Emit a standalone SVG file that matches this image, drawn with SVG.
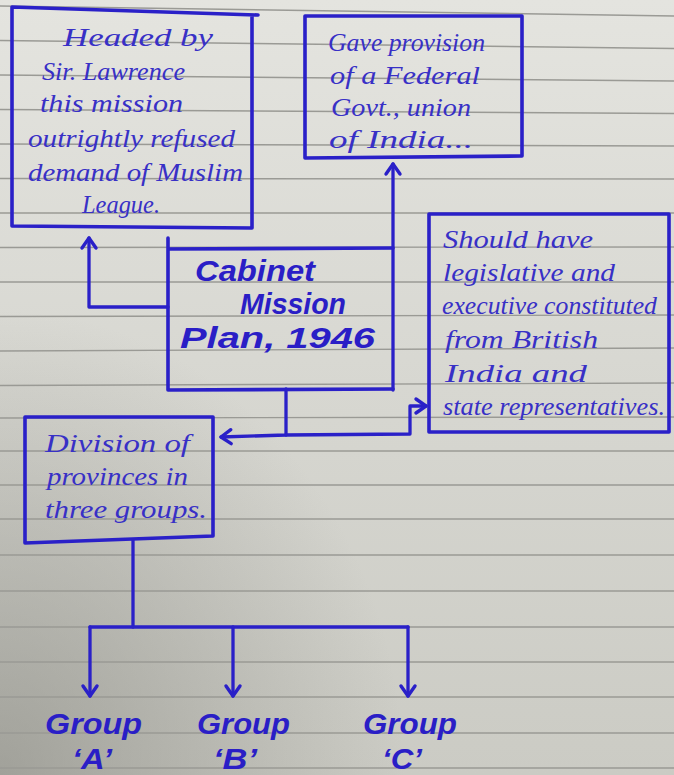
<svg xmlns="http://www.w3.org/2000/svg" width="674" height="775" viewBox="0 0 674 775">
  <defs>
    <linearGradient id="paper" x1="0" y1="0" x2="0" y2="1">
      <stop offset="0" stop-color="#e4e4df"/>
      <stop offset="0.5" stop-color="#d7d7d1"/>
      <stop offset="1" stop-color="#cbcbc4"/>
    </linearGradient>
    <radialGradient id="shade" cx="0" cy="1" r="0.6">
      <stop offset="0" stop-color="#85857e" stop-opacity="0.6"/>
      <stop offset="1" stop-color="#85857e" stop-opacity="0"/>
    </radialGradient>
    <marker id="chev" viewBox="-13 -10 16 20" refX="0" refY="0" markerWidth="16" markerHeight="20" markerUnits="userSpaceOnUse" orient="auto">
      <path d="M-10,-7 L0,0 L-10,7" fill="none" stroke="#2a20c8" stroke-width="3.4" stroke-linecap="round" stroke-linejoin="round"/>
    </marker>
  </defs>
  <style>
    .box { fill: none; stroke: #2a20c8; stroke-width: 3.6; stroke-linejoin: round; stroke-linecap: round; }
    .conn { fill: none; stroke: #2a20c8; stroke-width: 3.3; stroke-linejoin: round; stroke-linecap: round; }
    .rule { fill: none; stroke: #9a9a95; stroke-width: 1.4; }
    .pen { font-family: "Liberation Serif", "DejaVu Serif", serif; font-style: italic; font-size: 25px; fill: #3830c6; }
    .marker { font-family: "Liberation Sans", "DejaVu Sans", sans-serif; font-style: italic; font-weight: bold; font-size: 30px; fill: #2a1ec6; }
  </style>

  <rect x="0" y="0" width="674" height="775" fill="url(#paper)"/>
  <rect x="0" y="0" width="674" height="775" fill="url(#shade)"/>

  <g id="ruled-lines">
    <path class="rule" d="M0,6 L674,16"/>
    <path class="rule" d="M0,40.5 L674,48.5"/>
    <path class="rule" d="M0,75 L674,81"/>
    <path class="rule" d="M0,109.5 L674,113.5"/>
    <path class="rule" d="M0,144 L674,146"/>
    <path class="rule" d="M0,178.5 L674,179"/>
    <path class="rule" d="M0,213 L674,213"/>
    <path class="rule" d="M0,247.5 L674,247"/>
    <path class="rule" d="M0,282 L674,282"/>
    <path class="rule" d="M0,316.5 L674,315"/>
    <path class="rule" d="M0,351 L674,348"/>
    <path class="rule" d="M0,385.5 L674,383"/>
    <path class="rule" d="M0,418 L674,417"/>
    <path class="rule" d="M0,451 L674,451"/>
    <path class="rule" d="M0,485 L674,485"/>
    <path class="rule" d="M0,519 L674,519"/>
    <path class="rule" d="M0,555 L674,555"/>
    <path class="rule" d="M0,591 L674,591"/>
    <path class="rule" d="M0,627 L674,627"/>
    <path class="rule" d="M0,662 L674,662"/>
    <path class="rule" d="M0,697 L674,697"/>
    <path class="rule" d="M0,733 L674,733"/>
    <path class="rule" d="M0,768 L674,768"/>
  </g>

  <g id="connectors">
    <path class="conn" d="M168,307 L89,307 L89,238" marker-end="url(#chev)"/>
    <path class="conn" d="M393,390 L393,164" marker-end="url(#chev)"/>
    <path class="conn" d="M286,389 L286,435 L221,437" marker-end="url(#chev)"/>
    <path class="conn" d="M286,435 L410,434 L410,406 L426,406" marker-end="url(#chev)"/>
    <path class="conn" d="M133,540 L133,627"/>
    <path class="conn" d="M90,627 L408,627"/>
    <path class="conn" d="M90,627 L90,696" marker-end="url(#chev)"/>
    <path class="conn" d="M233,627 L233,696" marker-end="url(#chev)"/>
    <path class="conn" d="M408,627 L408,696" marker-end="url(#chev)"/>
  </g>

  <g id="headed">
    <path class="box" d="M12,7 L258,15 M12,7 L12,226 L252,228 L252,15"/>
    <text class="pen" x="63" y="46" textLength="150" lengthAdjust="spacingAndGlyphs">Headed by</text>
    <text class="pen" x="42" y="80" textLength="143" lengthAdjust="spacingAndGlyphs">Sir. Lawrence</text>
    <text class="pen" x="40" y="112" textLength="143" lengthAdjust="spacingAndGlyphs">this mission</text>
    <text class="pen" x="28" y="147" textLength="207" lengthAdjust="spacingAndGlyphs">outrightly refused</text>
    <text class="pen" x="28" y="181" textLength="215" lengthAdjust="spacingAndGlyphs">demand of Muslim</text>
    <text class="pen" x="82" y="213" textLength="78" lengthAdjust="spacingAndGlyphs">League.</text>
  </g>

  <g id="federal">
    <path class="box" d="M305,16 L522,16 L522,156 L305,158 Z"/>
    <text class="pen" x="328" y="51" textLength="157" lengthAdjust="spacingAndGlyphs">Gave provision</text>
    <text class="pen" x="330" y="84" textLength="150" lengthAdjust="spacingAndGlyphs">of a Federal</text>
    <text class="pen" x="331" y="116" textLength="140" lengthAdjust="spacingAndGlyphs">Govt., union</text>
    <text class="pen" x="329" y="148" textLength="144" lengthAdjust="spacingAndGlyphs">of India...</text>
  </g>

  <g id="cabinet">
    <path class="box" d="M168,238 L168,390 L393,389 M168,249 L393,248"/>
    <text class="marker" x="195" y="281" textLength="120" lengthAdjust="spacingAndGlyphs">Cabinet</text>
    <text class="marker" x="240" y="314" textLength="106" lengthAdjust="spacingAndGlyphs">Mission</text>
    <text class="marker" x="180" y="348" textLength="195" lengthAdjust="spacingAndGlyphs">Plan, 1946</text>
  </g>

  <g id="legislative">
    <path class="box" d="M429,214 L669,214 L669,432 L429,432 Z"/>
    <text class="pen" x="443" y="248" textLength="150" lengthAdjust="spacingAndGlyphs">Should have</text>
    <text class="pen" x="443" y="281" textLength="172" lengthAdjust="spacingAndGlyphs">legislative and</text>
    <text class="pen" x="442" y="314" textLength="215" lengthAdjust="spacingAndGlyphs">executive constituted</text>
    <text class="pen" x="445" y="348" textLength="153" lengthAdjust="spacingAndGlyphs">from British</text>
    <text class="pen" x="445" y="382" textLength="142" lengthAdjust="spacingAndGlyphs">India and</text>
    <text class="pen" x="443" y="415" textLength="222" lengthAdjust="spacingAndGlyphs">state representatives.</text>
  </g>

  <g id="division">
    <path class="box" d="M25,417 L213,417 L213,536 L25,543 Z"/>
    <text class="pen" x="45" y="452" textLength="145" lengthAdjust="spacingAndGlyphs">Division of</text>
    <text class="pen" x="47" y="485" textLength="141" lengthAdjust="spacingAndGlyphs">provinces in</text>
    <text class="pen" x="45" y="518" textLength="162" lengthAdjust="spacingAndGlyphs">three groups.</text>
  </g>

  <g id="groupA">
    <text class="marker" x="45" y="734" textLength="97" lengthAdjust="spacingAndGlyphs">Group</text>
    <text class="marker" x="72" y="769" textLength="40" lengthAdjust="spacingAndGlyphs">‘A’</text>
  </g>
  <g id="groupB">
    <text class="marker" x="197" y="734" textLength="93" lengthAdjust="spacingAndGlyphs">Group</text>
    <text class="marker" x="213" y="769" textLength="44" lengthAdjust="spacingAndGlyphs">‘B’</text>
  </g>
  <g id="groupC">
    <text class="marker" x="363" y="734" textLength="94" lengthAdjust="spacingAndGlyphs">Group</text>
    <text class="marker" x="382" y="769" textLength="40" lengthAdjust="spacingAndGlyphs">‘C’</text>
  </g>
</svg>
